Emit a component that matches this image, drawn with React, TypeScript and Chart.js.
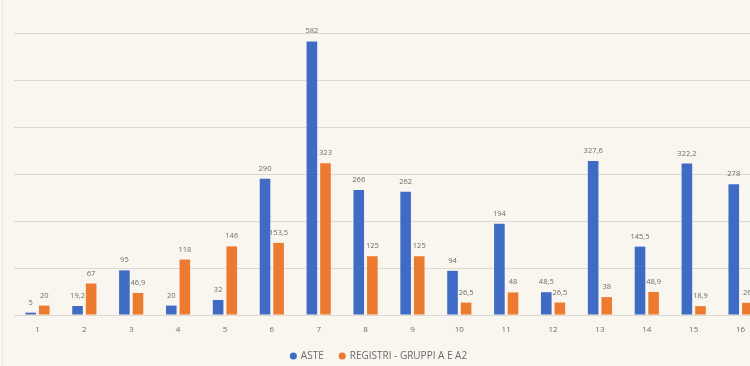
import React, { useEffect, useRef } from "react";
import { Chart, registerables } from "chart.js";

Chart.register(...registerables);

const categories = ["1", "2", "3", "4", "5", "6", "7", "8", "9", "10", "11", "12", "13", "14", "15", "16"];
const asteValues = [5, 19.2, 95, 20, 32, 290, 582, 266, 262, 94, 194, 48.5, 327.6, 145.5, 322.2, 278];
const registriValues = [20, 67, 46.9, 118, 146, 153.5, 323, 125, 125, 26.5, 48, 26.5, 38, 48.9, 18.9, 26];
const seriesNames = ["ASTE", "REGISTRI - GRUPPI A E A2"];

const BG = "#f9f6ef";
const BLUE = "#3f6bc4";
const ORANGE = "#ec7a2f";
const TEXT = "#6b6b6b";
const FONT = "'Open Sans', 'Liberation Sans', sans-serif";

const fmt = (v: number) => String(v).replace(".", ",");

const labelPlugin = {
  id: "valueLabels",
  afterDatasetsDraw(chart: any) {
    const ctx = chart.ctx;
    ctx.save();
    ctx.font = `7.5px ${FONT}`;
    ctx.fillStyle = TEXT;
    ctx.textAlign = "center";
    ctx.textBaseline = "alphabetic";
    chart.data.datasets.forEach((ds: any, i: number) => {
      const meta = chart.getDatasetMeta(i);
      meta.data.forEach((el: any, j: number) => {
        ctx.fillText(fmt(ds.data[j]), el.x, el.y - 8);
      });
    });
    ctx.restore();
  },
};

export default function App() {
  const ref = useRef<HTMLCanvasElement | null>(null);
  useEffect(() => {
    if (!ref.current) return;
    const chart = new Chart(ref.current, {
      type: "bar",
      data: {
        labels: categories,
        datasets: [
          {
            label: seriesNames[0],
            data: asteValues,
            backgroundColor: BLUE,
            categoryPercentage: 0.58,
            barPercentage: 0.78,
          },
          {
            label: seriesNames[1],
            data: registriValues,
            backgroundColor: ORANGE,
            categoryPercentage: 0.58,
            barPercentage: 0.78,
          },
        ],
      },
      options: {
        responsive: false,
        animation: false,
        layout: { padding: { top: 33, bottom: -5, left: 0, right: 0 } },
        plugins: {
          legend: {
            position: "bottom",
            labels: {
              usePointStyle: true,
              pointStyle: "circle",
              boxWidth: 5,
              boxHeight: 5,
              padding: 16,
              color: TEXT,
              font: { size: 10, family: FONT },
            },
          },
          tooltip: { enabled: false },
        },
        scales: {
          x: {
            grid: { display: false, drawTicks: false },
            border: { display: true, color: "#dcd9d2" },
            ticks: { color: TEXT, font: { size: 8, family: FONT }, padding: 10 },
            afterFit: (scale: any) => {
              scale.height = 20;
            },
          },
          y: {
            min: 0,
            max: 600,
            ticks: { display: false, stepSize: 100 },
            grid: { color: "#dcd9d2", drawTicks: false, lineWidth: 1 },
            border: { display: false },
            afterFit: (scale: any) => {
              scale.width = 20;
            },
          },
        },
      },
      plugins: [labelPlugin],
    });
    return () => chart.destroy();
  }, []);
  return (
    <div
      style={{
        position: "fixed",
        left: 0,
        top: 0,
        width: 750,
        height: 366,
        overflow: "hidden",
        background: BG,
      }}
    >
      <div style={{ position: "absolute", left: 2, top: 0, width: 1, height: 366, background: "#e8e5de" }} />
      <canvas
        ref={ref}
        width={770}
        height={366}
        style={{ position: "absolute", left: -6, top: 0, width: 770, height: 366 }}
      />
    </div>
  );
}
